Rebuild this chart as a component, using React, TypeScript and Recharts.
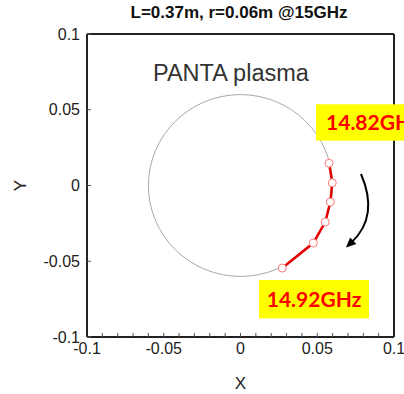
import {
  ReferenceArea,
  ReferenceDot,
  ReferenceLine,
  Scatter,
  ScatterChart,
  XAxis,
  YAxis,
} from 'recharts';

const TITLE = 'L=0.37m, r=0.06m @15GHz';
const PLASMA_NAME = 'PANTA plasma';
const X_LABEL = 'X';
const Y_LABEL = 'Y';

const AXIS_DOMAIN: [number, number] = [-0.1, 0.1];
const X_TICKS = [
  -0.1, -0.09, -0.08, -0.07, -0.06, -0.05, -0.04, -0.03, -0.02, -0.01, 0,
  0.01, 0.02, 0.03, 0.04, 0.05, 0.06, 0.07, 0.08, 0.09, 0.1,
];
const Y_TICKS = [-0.1, -0.05, 0, 0.05, 0.1];

// plasma cross-section (circle of radius r centred at origin)
const PLASMA_R = 0.06;
const PLASMA_CENTER = [0, 0];

// reflection points along the frequency sweep
const SWEEP_F = [14.82, 14.84, 14.86, 14.88, 14.9, 14.92];
const SWEEP_X = [0.0577, 0.0598, 0.0585, 0.0552, 0.0474, 0.0272];
const SWEEP_Y = [0.0147, 0.0018, -0.0109, -0.0241, -0.038, -0.0545];

// annotations, in data units
const START_LABEL = '14.82GHz';
const START_BOX = { x1: 0.0492, x2: 0.115, y1: 0.0296, y2: 0.0536 };
const END_LABEL = '14.92GHz';
const END_BOX = { x1: 0.0121, x2: 0.0837, y1: -0.0877, y2: -0.0624 };
const ARROW_FROM = { x: 0.0785, y: 0.0076 };
const ARROW_TO = { x: 0.0687, y: -0.041 };
const NAME_POS = { x: -0.057, y: 0.0692 };

const sweep = SWEEP_F.map((f, i) => ({ f, x: SWEEP_X[i], y: SWEEP_Y[i] }));

const FONT = '"Liberation Sans", Arial, sans-serif';
const LABEL_FONT = 'Lato, "Liberation Sans", sans-serif';

function fmt_tick(v: number): string {
  return Math.abs(v * 20 - Math.round(v * 20)) < 1e-6 ? String(v) : '';
}

function PlasmaCircle(p: any) {
  const w = Math.abs(p.width);
  const h = Math.abs(p.height);
  const x = Math.min(p.x, p.x + p.width);
  const y = Math.min(p.y, p.y + p.height);
  return (
    <ellipse
      cx={x + w / 2}
      cy={y + h / 2}
      rx={w / 2}
      ry={h / 2}
      fill="none"
      stroke="#a8a8a8"
      strokeWidth={1}
    />
  );
}

function CurvedArrow(p: any) {
  const { x1, y1, x2, y2 } = p;
  const dx = x2 - x1;
  const dy = y2 - y1;
  const len = Math.hypot(dx, dy);
  // bulge to the right of the chord
  const nx = -dy / len;
  const ny = dx / len;
  const cx = (x1 + x2) / 2 - nx * len * 0.35;
  const cy = (y1 + y2) / 2 - ny * len * 0.35;
  const tx = x2 - cx;
  const ty = y2 - cy;
  const tl = Math.hypot(tx, ty);
  const ux = tx / tl;
  const uy = ty / tl;
  const head = 10;
  const half = 4.5;
  const bx = x2 - ux * head;
  const by = y2 - uy * head;
  return (
    <g>
      <path
        d={`M${x1},${y1} Q${cx},${cy} ${bx + ux * 2},${by + uy * 2}`}
        fill="none"
        stroke="#000"
        strokeWidth={2}
      />
      <polygon
        points={`${x2},${y2} ${bx - uy * half},${by + ux * half} ${bx + uy * half},${by - ux * half}`}
        fill="#000"
      />
    </g>
  );
}

function makeTag(text: string, align: 'start' | 'middle') {
  return (p: any) => {
    const w = Math.abs(p.width);
    const h = Math.abs(p.height);
    const x = Math.min(p.x, p.x + p.width);
    const y = Math.min(p.y, p.y + p.height);
    return (
      <g>
        <rect x={x} y={y} width={w} height={h} fill="#ffff00" />
        <text
          x={align === 'start' ? x + 10 : x + w / 2}
          y={y + h / 2 + 7.5}
          textAnchor={align}
          fill="#ff0000"
          fontFamily={LABEL_FONT}
          fontWeight={700}
          fontSize={21}
        >
          {text}
        </text>
      </g>
    );
  };
}

function NameText(p: any) {
  return (
    <text x={p.cx} y={p.cy} fill="#333" fontFamily={FONT} fontSize={23.5}>
      {PLASMA_NAME}
    </text>
  );
}

function SweepDot(p: any) {
  return <circle cx={p.cx} cy={p.cy} r={4} fill="#fff" stroke="#ff7a7a" strokeWidth={1} />;
}

function YTitle(p: any) {
  const vb = p.viewBox || { x: 0, y: 0, height: 0 };
  const cx = vb.x + 20;
  const cy = vb.y + vb.height / 2;
  return (
    <text
      x={cx}
      y={cy}
      transform={`rotate(-90, ${cx}, ${cy})`}
      textAnchor="middle"
      dominantBaseline="central"
      fill="#222"
      fontFamily={FONT}
      fontSize={17}
    >
      {Y_LABEL}
    </text>
  );
}

function XTitle(p: any) {
  const vb = p.viewBox || { x: 0, y: 0, width: 0 };
  return (
    <text
      x={vb.x + vb.width / 2}
      y={389}
      textAnchor="middle"
      fill="#222"
      fontFamily={FONT}
      fontSize={17}
    >
      {X_LABEL}
    </text>
  );
}

const axisLine = { stroke: '#222', strokeWidth: 2 };
const tickLine = { stroke: '#555', strokeWidth: 1 };
const tickText = { fill: '#222', fontSize: 16, fontFamily: FONT };

export default function App() {
  return (
    <div style={{ position: 'absolute', left: 0, top: 0, width: 404, height: 394, background: '#fff' }}>
      <div
        style={{
          position: 'absolute',
          left: 0,
          top: 3,
          width: 478,
          textAlign: 'center',
          fontFamily: FONT,
          fontWeight: 700,
          fontSize: 17,
          color: '#111',
          lineHeight: '20px',
        }}
      >
        {TITLE}
      </div>
      <ScatterChart width={404} height={394} margin={{ top: 33, right: 9, bottom: 0, left: 0 }}>
        <XAxis
          xAxisId="x"
          dataKey="x"
          type="number"
          domain={AXIS_DOMAIN}
          ticks={X_TICKS}
          interval={0}
          tickFormatter={fmt_tick}
          height={57}
          tickSize={-4}
          tickMargin={10}
          axisLine={axisLine}
          tickLine={tickLine}
          tick={tickText}
          allowDataOverflow
          label={<XTitle />}
        />
        <XAxis
          xAxisId="top"
          orientation="top"
          type="number"
          domain={AXIS_DOMAIN}
          ticks={X_TICKS}
          interval={0}
          tickFormatter={() => ''}
          height={1}
          tickSize={-4}
          axisLine={axisLine}
          tickLine={tickLine}
          tick={tickText}
        />
        <YAxis
          yAxisId="y"
          dataKey="y"
          type="number"
          domain={AXIS_DOMAIN}
          ticks={Y_TICKS}
          interval={0}
          width={87}
          tickSize={-4}
          tickMargin={11}
          axisLine={axisLine}
          tickLine={tickLine}
          tick={tickText}
          allowDataOverflow
          label={<YTitle />}
        />
        <YAxis
          yAxisId="right"
          orientation="right"
          type="number"
          domain={AXIS_DOMAIN}
          ticks={Y_TICKS}
          interval={0}
          tickFormatter={() => ''}
          width={1}
          tickSize={-4}
          axisLine={axisLine}
          tickLine={tickLine}
          tick={tickText}
        />
        <ReferenceArea
          xAxisId="x"
          yAxisId="y"
          x1={PLASMA_CENTER[0] - PLASMA_R}
          x2={PLASMA_CENTER[0] + PLASMA_R}
          y1={PLASMA_CENTER[1] - PLASMA_R}
          y2={PLASMA_CENTER[1] + PLASMA_R}
          shape={PlasmaCircle}
        />
        <ReferenceDot
          xAxisId="x"
          yAxisId="y"
          x={NAME_POS.x}
          y={NAME_POS.y}
          shape={NameText}
        />
        <Scatter
          xAxisId="x"
          yAxisId="y"
          data={sweep}
          line={{ stroke: '#e30000', strokeWidth: 2.5 }}
          lineType="joint"
          shape={SweepDot}
          isAnimationActive={false}
        />
        <ReferenceLine
          xAxisId="x"
          yAxisId="y"
          segment={[ARROW_FROM, ARROW_TO]}
          shape={CurvedArrow}
        />
        <ReferenceArea
          xAxisId="x"
          yAxisId="y"
          {...START_BOX}
          ifOverflow="visible"
          shape={makeTag(START_LABEL, 'start')}
          {...({ zIndex: 2000 } as any)}
        />
        <ReferenceArea
          xAxisId="x"
          yAxisId="y"
          {...END_BOX}
          ifOverflow="visible"
          shape={makeTag(END_LABEL, 'middle')}
          {...({ zIndex: 2000 } as any)}
        />
      </ScatterChart>
    </div>
  );
}
